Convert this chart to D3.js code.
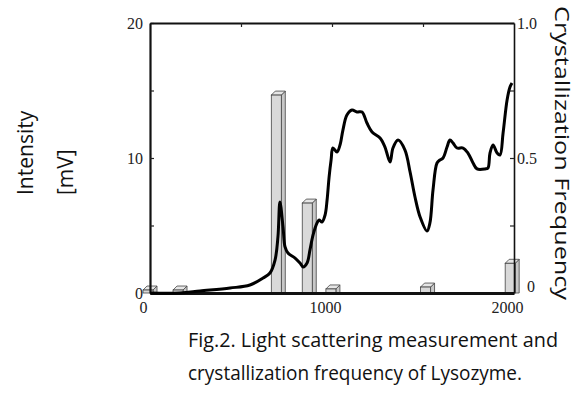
<!DOCTYPE html>
<html><head><meta charset="utf-8">
<script src="https://cdn.jsdelivr.net/npm/d3@7/dist/d3.min.js"></script>
<style>html,body{margin:0;padding:0;background:#fff;}</style>
</head><body>
<svg id="c" width="577" height="407"></svg>
<script>
// ---- data ----
const curveX = [0,165,275,440,549,621,659,687,703,714,731,742,758,797,824,841,863,879,896,918,929,945,962,973,984,995,1005,1027,1044,1060,1082,1110,1137,1165,1192,1220,1264,1291,1319,1335,1363,1401,1429,1456,1484,1522,1538,1555,1577,1593,1610,1632,1648,1665,1687,1720,1747,1775,1797,1841,1857,1868,1885,1907,1923,1940,1962,1978,1989];
const curveIntensity = [0,0,0.15,0.37,0.59,1.11,1.48,2.44,4.15,6.74,4.89,3.41,2.96,2.59,2.22,1.93,2.22,3.19,4.30,5.19,5.41,5.26,5.78,6.89,8.59,9.85,10.74,10.44,10.96,12.07,13.19,13.56,13.41,13.41,12.59,11.93,11.48,10.81,9.70,10.74,11.33,10.59,8.96,7.11,5.63,4.59,5.19,7.63,9.63,9.85,10.0,10.81,11.33,11.11,10.74,10.74,10.37,9.63,9.19,9.19,9.26,10.37,10.96,10.37,10.22,11.85,14.30,15.26,15.56];
const barX = [0,165,705,875,1005,1525,1990];
const barFreq = [0.011,0.011,0.733,0.333,0.015,0.022,0.11];
const xTicksLabeled = [0,1000,2000];
const xTicksTop = [500,1000,1500];
const leftTicks = [0,5,10,15,20];
const leftLabels = [0,10,20];
const rightTicks = [0,0.25,0.5,0.75,1];
const rightLabels = {0:"0",0.5:"0.5",1:"1.0"};
const leftTitle = ["Intensity","[mV]"];
const rightTitle = "Crystallization Frequency";
const caption = ["Fig.2. Light scattering measurement and","crystallization frequency of Lysozyme."];

// ---- layout ----
const svg = d3.select("#c");
const L=150,R=514,T=23,B=293;
const x = d3.scaleLinear([0,2000],[L,R]);
const yL = d3.scaleLinear([0,20],[B,T]);
const yR = d3.scaleLinear([0,1],[B,T]);
const serif = "'Liberation Serif', 'DejaVu Serif', serif";
const sans = "'Open Sans', 'Noto Sans', sans-serif";

// bars (3D style)
const bw=10, d=4;
const bars = svg.append("g");
barX.forEach((v,i)=>{
  const x0 = x(v)-7, x1=x0+bw, yt=yR(barFreq[i]);
  bars.append("path").attr("d",`M${x1},${B}L${x1},${yt}L${x1+d},${yt-d}L${x1+d},${B}Z`)
    .attr("fill","#c8c8c8").attr("stroke","#444").attr("stroke-width",0.8);
  bars.append("path").attr("d",`M${x0},${yt}L${x0+d},${yt-d}L${x1+d},${yt-d}L${x1},${yt}Z`)
    .attr("fill","#e6e6e6").attr("stroke","#444").attr("stroke-width",0.8);
  bars.append("rect").attr("x",x0).attr("y",yt).attr("width",bw).attr("height",B-yt)
    .attr("fill","#d9d9d9").attr("stroke","#444").attr("stroke-width",0.8);
});

// axes
const gL = svg.append("g").attr("transform",`translate(${L},0)`)
  .call(d3.axisLeft(yL).tickValues(leftTicks).tickSize(-4).tickSizeOuter(0).tickPadding(7)
    .tickFormat(v=>leftLabels.includes(v)?String(v):""));
const gR = svg.append("g").attr("transform",`translate(${R},0)`)
  .call(d3.axisRight(yR).tickValues(rightTicks).tickSize(-4).tickSizeOuter(0).tickPadding(3)
    .tickFormat(v=>rightLabels[v]||""));
const gT = svg.append("g").attr("transform",`translate(0,${T})`)
  .call(d3.axisTop(x).tickValues(xTicksTop).tickSize(-4).tickSizeOuter(0).tickFormat(""));
const gB = svg.append("g").attr("transform",`translate(0,${B})`)
  .call(d3.axisBottom(x).tickValues(xTicksLabeled).tickSize(0).tickSizeOuter(0).tickPadding(9)
    .tickFormat(v=>String(v)));
[gL,gR,gT,gB].forEach(g=>{
  g.attr("font-family",null).attr("font-size",null);
  g.selectAll("text").style("font-family",serif).style("font-size","16px").attr("fill","#222");
  g.selectAll(".tick line").attr("stroke","#222").attr("stroke-width",1.2);
  g.select(".domain").attr("stroke","#111");
});
gL.select(".domain").attr("stroke-width",2.2);
gT.select(".domain").attr("stroke-width",2.2);
gR.select(".domain").attr("stroke-width",1.6);
gB.select(".domain").attr("stroke-width",3);
gB.selectAll("text").attr("dx",-7);
gR.selectAll(".tick").filter(v=>v===0).select("text").attr("x",13).attr("dy","-0.1em");

// curve
const line = d3.line().x((v,i)=>x(curveX[i])).y(v=>yL(v)).curve(d3.curveCatmullRom.alpha(0.5));
svg.append("path").datum(curveIntensity).attr("d",line)
  .attr("fill","none").attr("stroke","#000").attr("stroke-width",3).attr("stroke-linejoin","round");

// titles
svg.append("text").attr("transform","translate(33,195) rotate(-90)")
  .style("font-family",sans).style("font-size","21px").attr("fill","#111").text(leftTitle[0]);
svg.append("text").attr("transform","translate(73,195) rotate(-90)")
  .style("font-family",sans).style("font-size","21px").attr("fill","#111").text(leftTitle[1]);
svg.append("text").attr("transform","translate(555,6) rotate(90)")
  .style("font-family",sans).style("font-size","20px").attr("fill","#111")
  .attr("textLength",294).attr("lengthAdjust","spacingAndGlyphs").text(rightTitle);
svg.append("text").attr("x",188).attr("y",347).style("font-family",sans).style("font-size","20px")
  .attr("fill","#111").attr("textLength",370).attr("lengthAdjust","spacingAndGlyphs").text(caption[0]);
svg.append("text").attr("x",188).attr("y",380).style("font-family",sans).style("font-size","20px")
  .attr("fill","#111").attr("textLength",334).attr("lengthAdjust","spacingAndGlyphs").text(caption[1]);
</script>
</body></html>
